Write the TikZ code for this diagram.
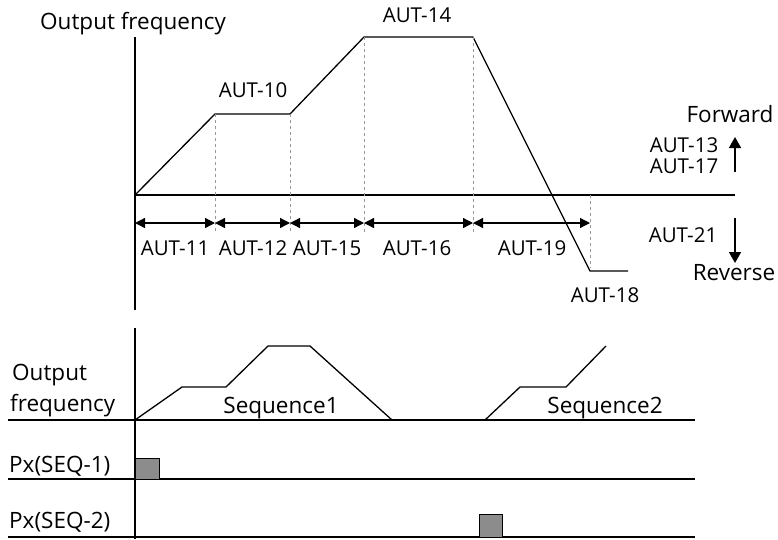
\documentclass[tikz,border=0pt]{standalone}
\usepackage{fontspec}
\setmainfont{Open Sans}
\usetikzlibrary{arrows.meta}

\begin{document}
\begin{tikzpicture}[
  x=1pt, y=-1pt,
  font=\fontsize{20.5}{24}\selectfont,
  >={Triangle[length=10pt,width=10pt]},
  axis/.style={line width=1.6pt},
  curve/.style={line width=1.3pt},
  guide/.style={gray!80, line width=0.9pt, dash pattern=on 3pt off 3pt},
  dim/.style={<->, line width=1.3pt},
  dir/.style={-{Triangle[length=11pt,width=12pt]}, line width=1.6pt},
  lbl/.style={anchor=base, inner sep=0pt},
  lblw/.style={anchor=base west, inner sep=0pt},
  word/.style={font=\fontsize{22.5}{26}\selectfont},
  pulse/.style={draw=black, fill=black!45, line width=0.9pt}
]
\useasboundingbox (0,0) rectangle (778,539);

%% ── Upper chart: axes ───────────────────────────────────────────────
\coordinate (ytop) at (135,37);
\coordinate (ybot) at (135,310);
\coordinate (o)    at (135,195);
\coordinate (xend) at (735,195);
\draw[axis] (ytop) -- (ybot);
\draw[axis] (o) -- (xend);
\node[lblw, word] (title) at (40,29) {Output frequency};

%% ── Frequency profile ───────────────────────────────────────────────
\coordinate (p1) at (215,114);
\coordinate (p2) at (290,114);
\coordinate (p3) at (364,37);
\coordinate (p4) at (473,37);
\coordinate (p5) at (590,271);
\coordinate (p6) at (628,271);
\draw[curve] (o) -- (p1) -- (p2) -- (p3) -- (p4) -- (p5) -- (p6);

%% guides and time spans
\coordinate (d0) at (135,223);
\coordinate (d1) at (215,223);
\coordinate (d2) at (290,223);
\coordinate (d3) at (364,223);
\coordinate (d4) at (473,223);
\coordinate (d5) at (590,223);
\foreach \p/\x in {p1/215, p2/290, p3/364, p4/473}
  \draw[guide] (\p) -- (\x,232);
\draw[guide] (590,195) -- (590,268);
\foreach \a/\b in {d0/d1, d1/d2, d2/d3, d3/d4, d4/d5}
  \draw[dim] (\a) -- (\b);

\node[lbl] (a11) at (175,255) {AUT-11};
\node[lbl] (a12) at (253,255) {AUT-12};
\node[lbl] (a15) at (327,255) {AUT-15};
\node[lbl] (a16) at (417,255) {AUT-16};
\node[lbl] (a19) at (532,255) {AUT-19};
\node[lbl] (a10) at (253,97)  {AUT-10};
\node[lbl] (a14) at (417,22)  {AUT-14};
\node[lbl] (a18) at (605,302) {AUT-18};

%% ── Direction legend ────────────────────────────────────────────────
\node[lbl, word] (fwd) at (730,122) {Forward};
\node[lbl] (a13) at (684,152) {AUT-13};
\node[lbl] (a17) at (684,173) {AUT-17};
\node[lbl] (a21) at (683,242) {AUT-21};
\node[lbl, word] (rev) at (734,280) {Reverse};
\coordinate (fwdlo) at (735,172);
\coordinate (fwdhi) at (735,137);
\coordinate (revhi) at (735,218);
\coordinate (revlo) at (735,263);
\draw[dir] (fwdlo) -- (fwdhi);
\draw[dir] (revhi) -- (revlo);

%% ── Lower chart: sequences ──────────────────────────────────────────
\coordinate (ltop) at (135,328);
\coordinate (lbot) at (135,539);
\draw[axis] (ltop) -- (lbot);
\foreach \y in {420, 479, 537}
  \draw[axis] (8,\y) -- (695,\y);

\node[lblw, word] (out)  at (12,380) {Output};
\node[lblw, word] (freq) at (10,411) {frequency};
\node[lblw, word] (px1)  at (9,472) {Px(SEQ-1)};
\node[lblw, word] (px2)  at (9,528) {Px(SEQ-2)};

%% sequence 1
\draw[curve] (135,420) -- (182,387) -- (226,387) -- (268,346)
             -- (310,346) -- (392,420);
\node[lbl, word] (seq1) at (281,413) {Sequence1};

%% sequence 2
\draw[curve] (485,420) -- (520,387) -- (566,387) -- (606,346);
\node[lbl, word] (seq2) at (605,413) {Sequence2};

%% input pulses
\draw[pulse] (135,458) rectangle (159,479);
\draw[pulse] (479,514) rectangle (502,537);

\end{tikzpicture}
\end{document}
